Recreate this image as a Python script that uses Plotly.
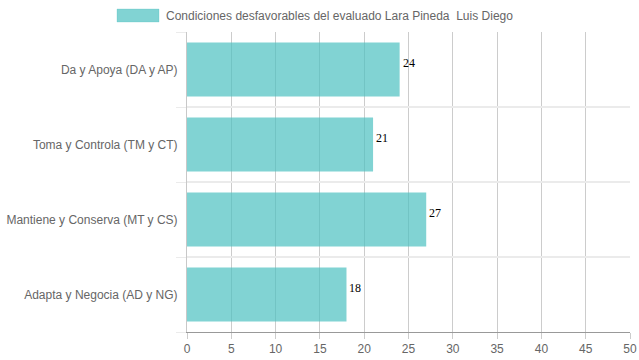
import plotly.graph_objects as go

categories = ["Da y Apoya (DA y AP)", "Toma y Controla (TM y CT)",
              "Mantiene y Conserva (MT y CS)", "Adapta y Negocia (AD y NG)"]
values = [24, 21, 27, 18]
series_name = "Condiciones desfavorables del evaluado Lara Pineda  Luis Diego"
x_ticks = [0, 5, 10, 15, 20, 25, 30, 35, 40, 45, 50]

BAR = "rgba(75,192,192,0.7)"
GRID_V = "#cccccc"
GRID_H = "#ebebeb"
TXT = "#666666"

fig = go.Figure()
fig.add_trace(go.Bar(
    x=values, y=categories, orientation="h",
    marker=dict(color=BAR, line=dict(width=0)),
    name=series_name, showlegend=False, hoverinfo="x+y",
))

# data labels
for c, v in zip(categories, values):
    fig.add_annotation(x=v, y=c, text=str(v), showarrow=False,
                       xanchor="left", yanchor="middle", xshift=1, yshift=7,
                       font=dict(family="Liberation Serif, Times New Roman, serif",
                                 size=12, color="#000000"))

# hidden trace on second axis to activate grid between categories
fig.add_trace(go.Scatter(x=[None], y=[None], yaxis="y2", showlegend=False,
                         hoverinfo="skip"))

# custom legend
fig.add_shape(type="rect", xref="paper", yref="paper",
              x0=(117 - 187) / 443, x1=(159 - 187) / 443,
              y0=(332 - 22) / 300, y1=(332 - 9) / 300,
              fillcolor=BAR, line=dict(color="rgba(75,192,192,0.25)", width=1))
fig.add_annotation(xref="paper", yref="paper",
                   x=(164 - 187) / 443, y=(332 - 15.5) / 300,
                   xanchor="left", yanchor="middle", showarrow=False,
                   text=series_name,
                   font=dict(family="Arial, Liberation Sans, sans-serif", size=12, color=TXT))

fig.update_layout(
    width=639, height=360,
    margin=dict(l=187, r=9, t=32, b=28, autoexpand=False),
    paper_bgcolor="white", plot_bgcolor="white",
    bargap=0.28,
    font=dict(family="Arial, Liberation Sans, sans-serif", size=12, color=TXT),
    xaxis=dict(range=[0, 50], tickvals=x_ticks, showgrid=True, gridcolor=GRID_V,
               gridwidth=1, zeroline=False, showline=True, linecolor="#999999",
               linewidth=1, ticks="outside", ticklen=6, tickcolor=GRID_V,
               tickfont=dict(size=12, color=TXT), fixedrange=True, automargin=False),
    yaxis=dict(categoryorder="array", categoryarray=categories[::-1],
               range=[-0.5, 3.5], showgrid=False, zeroline=False,
               showline=True, linecolor="#c8c8c8", linewidth=1,
               ticks="", ticklabelstandoff=6, automargin=False,
               tickfont=dict(size=12, color=TXT), fixedrange=True),
    yaxis2=dict(overlaying="y", range=[-0.5, 3.5], tickvals=[-0.5, 0.5, 1.5, 2.5, 3.5],
                showticklabels=False, showgrid=True, gridcolor=GRID_H, gridwidth=2,
                ticks="outside", ticklen=10, tickcolor=GRID_H, side="left",
                zeroline=False, fixedrange=True, automargin=False),
    hovermode="closest",
)

fig.write_html("out.html", config={"displayModeBar": False},
               post_script="document.body.style.margin='0px';document.body.style.overflow='hidden';")
